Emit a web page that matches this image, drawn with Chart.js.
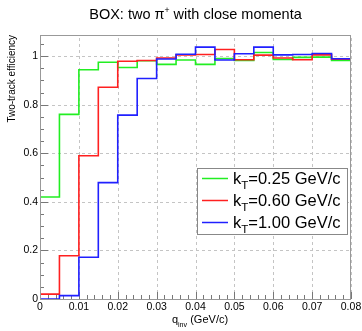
<!DOCTYPE html>
<html lang="en">
<head>
    <meta charset="UTF-8">
    <title>BOX: two pi+ with close momenta</title>
    <style>
        html, body { margin: 0; padding: 0; background: #fff; }
        .chart-box { position: relative; width: 362px; height: 331px; }
    </style>
</head>
<body>
    <div class="chart-box">
        <canvas id="effChart"></canvas>
    </div>

    <script src="https://cdn.jsdelivr.net/npm/chart.js"></script>
    <script>
        // bin edges of q_inv (GeV/c), 16 bins of 0.005
        const binEdges = [0, 0.005, 0.01, 0.015, 0.02, 0.025, 0.03, 0.035, 0.04,
                          0.045, 0.05, 0.055, 0.06, 0.065, 0.07, 0.075, 0.08];

        // two-track efficiency per bin
        const effKt025 = [0.42, 0.76, 0.944, 0.975, 0.953, 0.981, 0.966, 0.984,
                          0.966, 0.990, 0.982, 1.015, 0.986, 0.995, 0.996, 0.982];
        const effKt060 = [0.02, 0.178, 0.59, 0.872, 0.979, 0.982, 0.992, 1.005,
                          1.007, 1.027, 0.985, 1.004, 0.992, 0.985, 1.005, 0.987];
        const effKt100 = [0.0, 0.014, 0.172, 0.479, 0.757, 0.908, 0.988, 1.008,
                          1.037, 0.984, 1.010, 1.037, 1.005, 1.007, 1.011, 0.989];
        // value of the bin past the last edge (only red shows a step there)
        const overflow = [0.982, 1.02, 0.989];

        const seriesNames = ['0.25', '0.60', '1.00'];
        const seriesColors = ['#22ee22', '#ff2020', '#2020ff'];

        const xTicks = [0, 0.01, 0.02, 0.03, 0.04, 0.05, 0.06, 0.07, 0.08];
        const xLabels = ['0', '0.01', '0.02', '0.03', '0.04', '0.05', '0.06', '0.07', '0.08'];
        const yTicks = [0, 0.2, 0.4, 0.6, 0.8, 1];
        const yLabels = ['0', '0.2', '0.4', '0.6', '0.8', '1'];

        const FONT = '"Liberation Sans", Arial, sans-serif';

        // one point per bin at its low edge, plus the closing edge
        function histPoints(vals, over) {
            const pts = vals.map((v, i) => ({ x: binEdges[i], y: v }));
            pts.push({ x: binEdges[binEdges.length - 1], y: over });
            return pts;
        }

        // draw text made of pieces (normal / sub / sup)
        function richWidth(ctx, parts, size) {
            let w = 0;
            parts.forEach(p => {
                ctx.font = (size * (p.s || 1)) + 'px ' + FONT;
                w += ctx.measureText(p.t).width;
            });
            return w;
        }
        function drawRich(ctx, parts, x, y, size, align) {
            const w = richWidth(ctx, parts, size);
            let cx = align === 'center' ? x - w / 2 : (align === 'right' ? x - w : x);
            ctx.textAlign = 'left';
            ctx.textBaseline = 'alphabetic';
            parts.forEach(p => {
                ctx.font = (size * (p.s || 1)) + 'px ' + FONT;
                ctx.fillText(p.t, cx, y + (p.dy || 0) * size);
                cx += ctx.measureText(p.t).width;
            });
        }

        const decorPlugin = {
            id: 'decor',
            beforeDatasetsDraw(chart) {
                const ctx = chart.ctx;
                const xs = chart.scales.x, ys = chart.scales.y;
                const a = chart.chartArea;
                ctx.save();
                // dashed grid
                ctx.strokeStyle = '#c4c4c4';
                ctx.lineWidth = 1;
                ctx.setLineDash([3, 3]);
                ctx.beginPath();
                xTicks.forEach(v => {
                    const px = Math.round(xs.getPixelForValue(v)) + 0.5;
                    ctx.moveTo(px, a.bottom);
                    ctx.lineTo(px, a.top);
                });
                yTicks.forEach(v => {
                    const py = Math.round(ys.getPixelForValue(v)) + 0.5;
                    ctx.moveTo(a.left, py);
                    ctx.lineTo(a.right, py);
                });
                ctx.stroke();
                ctx.setLineDash([]);

                // inner tick marks, bottom axis
                ctx.strokeStyle = '#777';
                ctx.beginPath();
                for (let k = 0; k <= 40; k++) {
                    const px = Math.round(xs.getPixelForValue(k * 0.002)) + 0.5;
                    const len = k % 5 === 0 ? 7 : 4;
                    ctx.moveTo(px, a.bottom);
                    ctx.lineTo(px, a.bottom - len);
                }
                // inner tick marks, left axis
                for (let k = 0; k <= 21; k++) {
                    const py = Math.round(ys.getPixelForValue(k * 0.05)) + 0.5;
                    const len = k % 4 === 0 ? 8 : 4;
                    ctx.moveTo(a.left, py);
                    ctx.lineTo(a.left + len, py);
                }
                ctx.stroke();

                // tick labels
                ctx.fillStyle = '#000';
                ctx.font = '10.5px ' + FONT;
                ctx.textAlign = 'center';
                ctx.textBaseline = 'top';
                xTicks.forEach((v, i) => ctx.fillText(xLabels[i], xs.getPixelForValue(v), a.bottom + 3));
                ctx.textAlign = 'right';
                ctx.textBaseline = 'middle';
                yTicks.forEach((v, i) => ctx.fillText(yLabels[i], a.left - 2, ys.getPixelForValue(v)));
                ctx.restore();
            },
            afterDraw(chart) {
                const ctx = chart.ctx;
                const a = chart.chartArea;
                ctx.save();
                // frame
                ctx.strokeStyle = '#999';
                ctx.lineWidth = 1;
                ctx.strokeRect(a.left + 0.5, a.top + 0.5, a.right - a.left - 1, a.bottom - a.top);

                ctx.fillStyle = '#000';
                // title
                drawRich(ctx, [
                    { t: 'BOX: two π' },
                    { t: '+', s: 0.6, dy: -0.4 },
                    { t: ' with close momenta' }
                ], (a.left + a.right) / 2, 19, 14.5, 'center');

                // x axis title
                drawRich(ctx, [
                    { t: 'q' },
                    { t: 'inv', s: 0.65, dy: 0.35 },
                    { t: ' (GeV/c)' }
                ], 200, 323, 11, 'center');

                // y axis title
                ctx.save();
                ctx.translate(15, a.top);
                ctx.rotate(-Math.PI / 2);
                drawRich(ctx, [{ t: 'Two-track efficiency' }], 0, 0, 10, 'right');
                ctx.restore();

                // legend box
                const lx = 197, ly = 168, lw = 150, lh = 66;
                ctx.fillStyle = '#fff';
                ctx.fillRect(lx, ly, lw, lh);
                ctx.strokeStyle = '#888';
                ctx.strokeRect(lx + 0.5, ly + 0.5, lw, lh);
                chart.data.datasets.forEach((ds, i) => {
                    const rowY = 178 + i * 22;
                    ctx.strokeStyle = ds.borderColor;
                    ctx.lineWidth = 1.5;
                    ctx.beginPath();
                    ctx.moveTo(202, rowY + 0.5);
                    ctx.lineTo(228, rowY + 0.5);
                    ctx.stroke();
                    ctx.fillStyle = '#000';
                    drawRich(ctx, [
                        { t: 'k' },
                        { t: 'T', s: 0.7, dy: 0.3 },
                        { t: '=' + seriesNames[i] + ' GeV/c' }
                    ], 233, rowY + 6, 16.5, 'left');
                });
                ctx.restore();
            }
        };

        new Chart(document.getElementById('effChart').getContext('2d'), {
            type: 'line',
            data: {
                datasets: [effKt025, effKt060, effKt100].map((vals, i) => ({
                    label: 'kT=' + seriesNames[i] + ' GeV/c',
                    data: histPoints(vals, overflow[i]),
                    borderColor: seriesColors[i],
                    borderWidth: 1.6,
                    stepped: 'before',
                    pointRadius: 0,
                    fill: false,
                    order: 3 - i
                }))
            },
            options: {
                responsive: true,
                maintainAspectRatio: false,
                animation: false,
                layout: { padding: { top: 35, right: 11, left: 0, bottom: 0 } },
                plugins: {
                    legend: { display: false },
                    title: { display: false },
                    tooltip: { enabled: false }
                },
                scales: {
                    x: {
                        type: 'linear',
                        min: 0,
                        max: 0.08,
                        afterFit(scale) { scale.height = 32; },
                        ticks: { display: false },
                        grid: { display: false },
                        border: { display: false }
                    },
                    y: {
                        min: 0,
                        max: 1.087,
                        afterFit(scale) { scale.width = 40; },
                        ticks: { display: false },
                        grid: { display: false },
                        border: { display: false }
                    }
                }
            },
            plugins: [decorPlugin]
        });
    </script>
</body>
</html>
